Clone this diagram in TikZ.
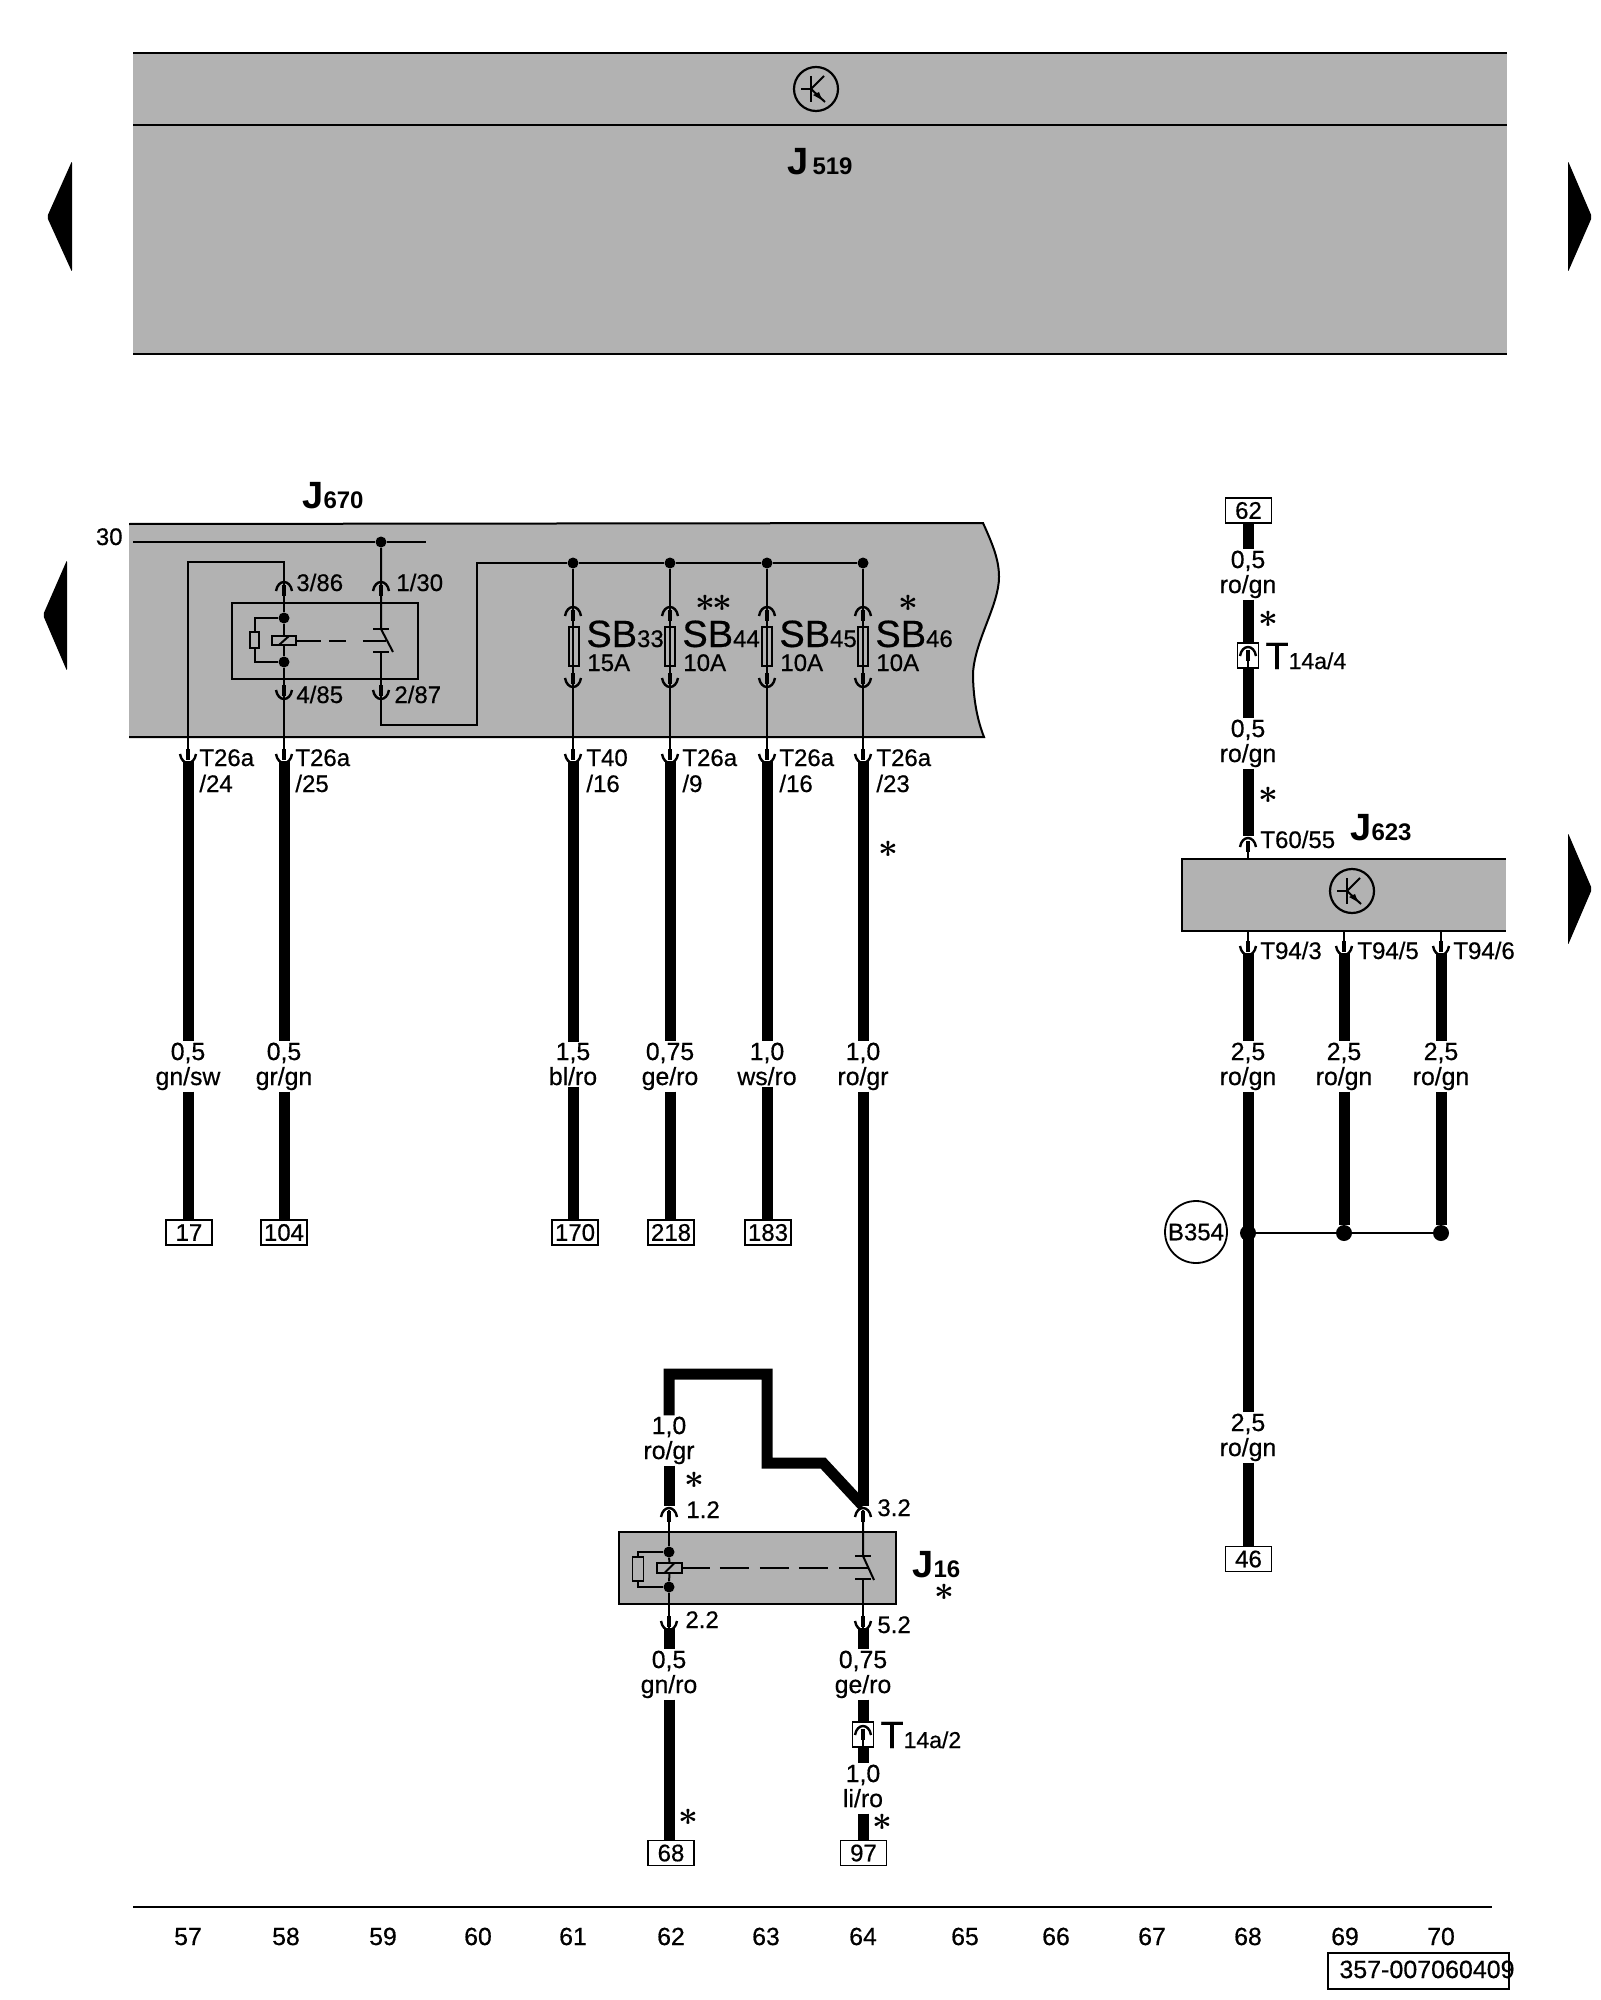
\documentclass[tikz,border=0pt]{standalone}
\usepackage{amsmath}
\usepackage{fontspec}
\setmainfont{Liberation Sans}[FakeBold=0.5, BoldFeatures={FakeBold=0}]
\usetikzlibrary{positioning}
\definecolor{modgray}{HTML}{B2B2B2}
\newcommand{\bigfont}{\fontsize{19}{19}\selectfont}
\newcommand{\subfont}{\fontsize{11.5}{11.5}\selectfont}
\tikzset{%
	wire/.style={line width=1pt},
	cable/.style={line width=5.5pt},
	border/.style={line width=1pt},
	dot/.style={circle, fill=black, minimum size=5.5pt, inner sep=0pt},
	bigdot/.style={circle, fill=black, minimum size=8pt, inner sep=0pt},
	fuse/.style={draw, line width=0.8pt, rectangle, minimum width=5pt, minimum height=19.5pt, inner sep=0pt},
	coil/.style={draw, line width=0.8pt, rectangle, fill=modgray, inner sep=0pt},
	resist/.style={draw, line width=0.8pt, rectangle, fill=modgray, inner sep=0pt},
	txt/.style={font=\fontsize{12}{13}\selectfont, inner sep=0pt, anchor=base west, align=left},
	wlab/.style={font=\fontsize{12.4}{12.5}\selectfont, inner sep=0.5pt, anchor=base, align=center},
	termbox/.style={draw, line width=0.9pt, rectangle, fill=white, minimum width=23pt, minimum height=12.5pt, inner sep=0pt, font=\fontsize{12}{12}\selectfont},
	tconn/.style={draw, line width=0.9pt, rectangle, fill=white, minimum width=10.5pt, minimum height=12.5pt, inner sep=0pt},
	ast/.style={font=\fontsize{17}{17}\selectfont, inner sep=0pt},
	pinup/.pic={
		\draw[line width=1.2pt] (-8,9) .. controls (-6,-3) and (6,-3) .. (8,9);
		\draw[line width=2pt] (0,3) -- (0,14);
	},
	pindown/.pic={
		\draw[line width=1.2pt] (-8,-9) .. controls (-6,3) and (6,3) .. (8,-9);
		\draw[line width=2pt] (0,-3) -- (0,-14);
	},
	trans/.pic={
		\draw[line width=1.1pt] (0,0) circle[radius=22];
		\draw[line width=1pt] (-15,0) -- (-5,0);
		\draw[line width=1pt] (-5,-13) -- (-5,13);
		\draw[line width=1pt] (-5,0) -- (8,-13);
		\draw[line width=1pt] (-5,0) -- (9,13);
		\fill (6,11) -- (-3,6) -- (3,3) -- cycle;
	}
}

\begin{document}
\begin{tikzpicture}[x=0.5pt, y=-0.5pt]
	\useasboundingbox (0,0) rectangle (1600,2000);

	%arrows at the edges
	\fill[rounded corners=1pt] (47,217) -- (72,161) -- (72,272) -- cycle;
	\fill[rounded corners=1pt] (43,615) -- (67,560) -- (67,671) -- cycle;
	\fill[rounded corners=1pt] (1592,217) -- (1568,161) -- (1568,272) -- cycle;
	\fill[rounded corners=1pt] (1592,889) -- (1568,833) -- (1568,945) -- cycle;

	%J519
	\fill[modgray] (133,53) rectangle (1507,354);
	\draw[border] (133,53) -- (1507,53);
	\draw[border] (133,125) -- (1507,125);
	\draw[border] (133,354) -- (1507,354);
	\pic at (816,89) {trans};
	\node[txt] (j519) at (787,175) {{\bfseries\bigfont J}\,{\bfseries 519}};

	%J670
	\draw[border, fill=modgray] (129,524) -- (983,523) .. controls (993,545) and (999,560) .. (999,577)
		.. controls (999,605) and (975,640) .. (973,673) .. controls (973,700) and (978,722) .. (984,737) -- (129,737);
	\node[txt] (j670) at (302,509) {{\bfseries\bigfont J}{\bfseries 670}};
	\node[txt, anchor=base east] (n30) at (123,545) {30};
	\node[dot] (dot30) at (381,542) {};
	\coordinate (l30a) at (133,542);
	\coordinate (l30b) at (426,542);
	\draw[wire] (l30a) -- (dot30) -- (l30b);

	%relay in J670
	\draw[border] (232,603) rectangle (418,679);
	\node[dot] (dot86) at (284,618) {};
	\node[dot] (dot85) at (284,662) {};
	\node[coil, minimum width=12pt, minimum height=4.5pt] (coil670) at (284,640.5) {};
	\node[resist, minimum width=4.5pt, minimum height=8pt] (res670) at (254.5,640) {};
	\coordinate (swt670) at (381,629);
	\coordinate (swb670) at (381,652);
	\coordinate (blade670) at (393,652);
	\coordinate (link670) at (387,640.5);
	\draw[wire] (coil670) -- (dot86);
	\draw[wire] (coil670) -- (dot85);
	\draw[wire] (dot86) -| (res670);
	\draw[wire] (dot85) -| (res670);
	\draw[wire] ([shift={(-5,4.5)}]coil670.center) -- ([shift={(5,-4.5)}]coil670.center);
	\draw[wire, dash pattern=on 12pt off 4pt on 8.5pt off 8.5pt on 11.5pt off 50pt] (coil670) -- (link670);
	\draw[wire] (dot30) -- (swt670) -- (blade670);
	\draw[wire] ([xshift=-4]swt670) -- ([xshift=4]swt670);
	\draw[wire] ([xshift=-4]swb670) -- ([xshift=4]swb670);

	%pins of J670
	\pic at (284,582) {pinup};
	\pic at (381,582) {pinup};
	\pic at (284,699) {pindown};
	\pic at (381,699) {pindown};
	\node[txt] (n386) at (296,591) {3/86};
	\node[txt] (n130) at (396,591) {1/30};
	\node[txt] (n485) at (296,703) {4/85};
	\node[txt] (n287) at (394,703) {2/87};
	\coordinate (cor86) at (284,562);
	\coordinate (cor87) at (381,725);
	\coordinate (bus0) at (477,563);
	\node[dot] (dot33) at (573,563) {};
	\node[dot] (dot44) at (670,563) {};
	\node[dot] (dot45) at (767,563) {};
	\node[dot] (dot46) at (863,563) {};
	\coordinate (pin24) at (188,750);
	\coordinate (pin25) at (284,750);
	\coordinate (pin33) at (573,750);
	\coordinate (pin44) at (670,750);
	\coordinate (pin45) at (767,750);
	\coordinate (pin46) at (863,750);
	\draw[wire] (pin24) |- (cor86) -- (dot86);
	\draw[wire] (dot85) -- (pin25);
	\draw[wire] (swb670) -- (cor87) -| (bus0) -- (dot33) -- (dot44) -- (dot45) -- (dot46);
	\draw[wire] (dot33) -- (pin33);
	\draw[wire] (dot44) -- (pin44);
	\draw[wire] (dot45) -- (pin45);
	\draw[wire] (dot46) -- (pin46);

	%fuses
	\node[fuse] (sb33) at (574,646.5) {};
	\node[fuse] (sb44) at (670,646.5) {};
	\node[fuse] (sb45) at (767,646.5) {};
	\node[fuse] (sb46) at (863,646.5) {};
	\pic at (573,607) {pinup};
	\pic at (670,607) {pinup};
	\pic at (767,607) {pinup};
	\pic at (863,607) {pinup};
	\pic at (573,687) {pindown};
	\pic at (670,687) {pindown};
	\pic at (767,687) {pindown};
	\pic at (863,687) {pindown};
	\node[txt] (n33) at (586,647) {{\bigfont SB}33};
	\node[txt] (n44) at (682,647) {{\bigfont SB}44};
	\node[txt] (n45) at (779,647) {{\bigfont SB}45};
	\node[txt] (n46) at (875,647) {{\bigfont SB}46};
	\node[txt] (a33) at (587,671) {15A};
	\node[txt] (a44) at (683,671) {10A};
	\node[txt] (a45) at (780,671) {10A};
	\node[txt] (a46) at (876,671) {10A};
	\node[ast] (ast44a) at (705,603) {$\boldsymbol{\ast}$};
	\node[ast] (ast44b) at (722,603) {$\boldsymbol{\ast}$};
	\node[ast] (ast46) at (908,603) {$\boldsymbol{\ast}$};

	%outputs of J670
	\pic at (188,763) {pindown};
	\pic at (284,763) {pindown};
	\pic at (573,763) {pindown};
	\pic at (670,763) {pindown};
	\pic at (767,763) {pindown};
	\pic at (863,763) {pindown};
	\node[txt] (t24) at (199,792) {T26a\\/24};
	\node[txt] (t25) at (295,792) {T26a\\/25};
	\node[txt] (t33) at (586,792) {T40\\/16};
	\node[txt] (t44) at (682,792) {T26a\\/9};
	\node[txt] (t45) at (779,792) {T26a\\/16};
	\node[txt] (t46) at (876,792) {T26a\\/23};
	\coordinate (top24) at (188,761);
	\coordinate (top25) at (284,761);
	\coordinate (top33) at (573,761);
	\coordinate (top44) at (670,761);
	\coordinate (top45) at (767,761);
	\coordinate (top46) at (863,761);
	\node[wlab] (lab24) at (188,1085) {0,5\\gn/sw};
	\node[wlab] (lab25) at (284,1085) {0,5\\gr/gn};
	\node[wlab] (lab33) at (573,1085) {1,5\\bl/ro};
	\node[wlab] (lab44) at (670,1085) {0,75\\ge/ro};
	\node[wlab] (lab45) at (767,1085) {1,0\\ws/ro};
	\node[wlab] (lab46) at (863,1085) {1,0\\ro/gr};
	\node[termbox] (box17) at (189,1232.5) {17};
	\node[termbox] (box104) at (284,1232.5) {104};
	\node[termbox] (box170) at (575,1232.5) {170};
	\node[termbox] (box218) at (671,1232.5) {218};
	\node[termbox] (box183) at (768,1232.5) {183};
	\draw[cable] (top24) -- (lab24);
	\draw[cable] (top25) -- (lab25);
	\draw[cable] (top33) -- (lab33);
	\draw[cable] (top44) -- (lab44);
	\draw[cable] (top45) -- (lab45);
	\draw[cable] (top46) -- (lab46);
	\draw[cable] (lab24) -- (lab24 |- box17.north);
	\draw[cable] (lab25) -- (lab25 |- box104.north);
	\draw[cable] (lab33) -- (lab33 |- box170.north);
	\draw[cable] (lab44) -- (lab44 |- box218.north);
	\draw[cable] (lab45) -- (lab45 |- box183.north);
	\node[ast] (ast64) at (888,849) {$\boldsymbol{\ast}$};

	%J16
	\node[draw, border, fill=modgray, rectangle, minimum width=138.5pt, minimum height=36pt, inner sep=0pt] (j16box) at (757.5,1568) {};
	\node[txt] (j16) at (912,1577) {{\bfseries\bigfont J}{\bfseries 16}};
	\node[ast] (astj16) at (944,1592) {$\boldsymbol{\ast}$};
	\node[dot] (dot12) at (669,1552) {};
	\node[dot] (dot22) at (669,1587) {};
	\node[coil, minimum width=12.5pt, minimum height=5pt] (coil16) at (669.5,1568) {};
	\node[resist, minimum width=5.5pt, minimum height=12pt] (res16) at (638,1569) {};
	\coordinate (swt16) at (863,1556);
	\coordinate (swb16) at (863,1579);
	\coordinate (blade16) at (874,1580);
	\coordinate (link16) at (868,1568);
	\coordinate (pin12) at (669,1510);
	\coordinate (pin32) at (863,1510);
	\coordinate (pin22) at (669,1628);
	\coordinate (pin52) at (863,1628);
	\draw[wire] (pin12) -- (dot12);
	\draw[wire] (dot22) -- (pin22);
	\draw[wire] (pin32) -- (swt16) -- (blade16);
	\draw[wire] (swb16) -- (pin52);
	\draw[wire] (coil16) -- (dot12);
	\draw[wire] (coil16) -- (dot22);
	\draw[wire] (dot12) -| (res16);
	\draw[wire] (dot22) -| (res16);
	\draw[wire] ([shift={(-5,5)}]coil16.center) -- ([shift={(5,-5)}]coil16.center);
	\draw[wire, dash pattern=on 13.5pt off 5pt on 14.5pt off 5.5pt on 14.5pt off 5pt on 14.5pt off 5.5pt on 14.5pt off 50pt] (coil16) -- (link16);
	\draw[wire] ([xshift=-4]swt16) -- ([xshift=4]swt16);
	\draw[wire] ([xshift=-4]swb16) -- ([xshift=4]swb16);
	\pic at (669,1508) {pinup};
	\pic at (863,1508) {pinup};
	\pic at (669,1630) {pindown};
	\pic at (863,1630) {pindown};
	\node[txt] (n12) at (686,1518) {1.2};
	\node[txt] (n32) at (877,1516) {3.2};
	\node[txt] (n22) at (685,1628) {2.2};
	\node[txt] (n52) at (877,1633) {5.2};

	%above J16
	\coordinate (k1) at (669,1374);
	\coordinate (k2) at (767,1374);
	\coordinate (k3) at (767,1463);
	\coordinate (k4) at (823,1463);
	\coordinate (k5) at (863,1506);
	\coordinate (end12) at (669,1506);
	\node[wlab] (lab12) at (669,1459) {1,0\\ro/gr};
	\draw[cable] (lab12) -- (k1) -- (k2) -- (k3) -- (k4) -- (k5);
	\draw[cable] (lab46) -- (k5);
	\draw[cable] (lab12) -- (end12);
	\node[ast] (ast12) at (694,1480) {$\boldsymbol{\ast}$};

	%below J16
	\coordinate (start22) at (669,1628);
	\coordinate (start52) at (863,1628);
	\node[wlab] (lab22) at (669,1693) {0,5\\gn/ro};
	\node[wlab] (lab52) at (863,1693) {0,75\\ge/ro};
	\node[tconn] (t14a2) at (863,1734.5) {};
	\node[txt] (n14a2) at (880,1748) {{\bigfont T}{\subfont 14a/2}};
	\node[wlab] (labli) at (863,1807) {1,0\\li/ro\vphantom{g}};
	\node[termbox] (box68) at (671,1853) {68};
	\node[termbox] (box97) at (863.5,1853) {97};
	\node[ast] (ast68) at (688,1817) {$\boldsymbol{\ast}$};
	\node[ast] (ast97) at (882,1822) {$\boldsymbol{\ast}$};
	\draw[cable] (start22) -- (lab22);
	\draw[cable] (lab22) -- (lab22 |- box68.north);
	\draw[cable] (start52) -- (lab52);
	\draw[cable] (lab52) -- (t14a2);
	\draw[cable] (t14a2) -- (labli);
	\draw[cable] (labli) -- (labli |- box97.north);
	\pic at (863,1726) {pinup};
	\draw[wire] (863,1740) -- (t14a2.south);

	%right column, J623
	\node[termbox] (box62) at (1248.5,510.5) {62};
	\node[wlab] (lab62a) at (1248,593) {0,5\\ro/gn};
	\node[tconn] (t14a4) at (1248,655.5) {};
	\node[txt] (n14a4) at (1265,669) {{\bigfont T}{\subfont 14a/4}};
	\node[wlab] (lab62b) at (1248,762) {0,5\\ro/gn};
	\node[ast] (ast62a) at (1268,619) {$\boldsymbol{\ast}$};
	\node[ast] (ast62b) at (1268,795) {$\boldsymbol{\ast}$};
	\coordinate (top60) at (1248,836);
	\draw[cable] (lab62a |- box62.south) -- (lab62a);
	\draw[cable] (lab62a) -- (t14a4);
	\draw[cable] (t14a4) -- (lab62b);
	\draw[cable] (lab62b) -- (top60);
	\pic at (1248,647) {pinup};
	\draw[wire] (1248,661) -- (t14a4.south);

	\draw[border, fill=modgray] (1506,859) -- (1182,859) -- (1182,931) -- (1506,931);
	\pic at (1352,891) {trans};
	\node[txt] (j623) at (1350,840) {{\bfseries\bigfont J}{\bfseries 623}};
	\node[txt] (t6055) at (1260,848) {T60/55};
	\pic at (1248,838) {pinup};
	\coordinate (pin60) at (1248,859);
	\coordinate (pin60b) at (1248,850);
	\draw[wire] (pin60b) -- (pin60);
	\pic at (1248,955) {pindown};
	\pic at (1344,955) {pindown};
	\pic at (1441,955) {pindown};
	\coordinate (m3) at (1248,931);
	\coordinate (m5) at (1344,931);
	\coordinate (m6) at (1441,931);
	\coordinate (p3) at (1248,942);
	\coordinate (p5) at (1344,942);
	\coordinate (p6) at (1441,942);
	\draw[wire] (m3) -- (p3);
	\draw[wire] (m5) -- (p5);
	\draw[wire] (m6) -- (p6);
	\node[txt] (t943) at (1260,959) {T94/3};
	\node[txt] (t945) at (1357,959) {T94/5};
	\node[txt] (t946) at (1453,959) {T94/6};
	\coordinate (top3) at (1248,953);
	\coordinate (top5) at (1344,953);
	\coordinate (top6) at (1441,953);
	\node[wlab] (lab3) at (1248,1085) {2,5\\ro/gn};
	\node[wlab] (lab5) at (1344,1085) {2,5\\ro/gn};
	\node[wlab] (lab6) at (1441,1085) {2,5\\ro/gn};
	\node[bigdot] (b1) at (1248,1233) {};
	\node[bigdot] (b2) at (1344,1233) {};
	\node[bigdot] (b3) at (1441,1233) {};
	\node[draw, line width=0.9pt, circle, minimum size=31pt, inner sep=0pt, font=\fontsize{12}{12}\selectfont] (b354) at (1196,1232) {B354};
	\node[wlab] (lab46b) at (1248,1456) {2,5\\ro/gn};
	\node[termbox] (box46) at (1248.5,1559) {46};
	\draw[cable] (top3) -- (lab3);
	\draw[cable] (top5) -- (lab5);
	\draw[cable] (top6) -- (lab6);
	\draw[cable] (lab3) -- (lab46b);
	\draw[cable] (lab5) -- (b2);
	\draw[cable] (lab6) -- (b3);
	\draw[cable] (lab46b) -- (lab46b |- box46.north);
	\draw[wire] (b1) -- (b2) -- (b3);

	%bottom rule
	\coordinate (rule0) at (133,1907);
	\coordinate (rule1) at (1492,1907);
	\draw[border] (rule0) -- (rule1);
	\node[wlab] (c57) at (188,1945) {57};
	\node[wlab] (c58) at (286,1945) {58};
	\node[wlab] (c59) at (383,1945) {59};
	\node[wlab] (c60) at (478,1945) {60};
	\node[wlab] (c61) at (573,1945) {61};
	\node[wlab] (c62) at (671,1945) {62};
	\node[wlab] (c63) at (766,1945) {63};
	\node[wlab] (c64) at (863,1945) {64};
	\node[wlab] (c65) at (965,1945) {65};
	\node[wlab] (c66) at (1056,1945) {66};
	\node[wlab] (c67) at (1152,1945) {67};
	\node[wlab] (c68) at (1248,1945) {68};
	\node[wlab] (c69) at (1345,1945) {69};
	\node[wlab] (c70) at (1441,1945) {70};
	\draw[line width=1.1pt] (1328,1953) rectangle (1509,1989);
	\node[txt, font=\fontsize{12.5}{12.5}\selectfont] (docno) at (1339,1978) {357-007060409};
\end{tikzpicture}
\end{document}
